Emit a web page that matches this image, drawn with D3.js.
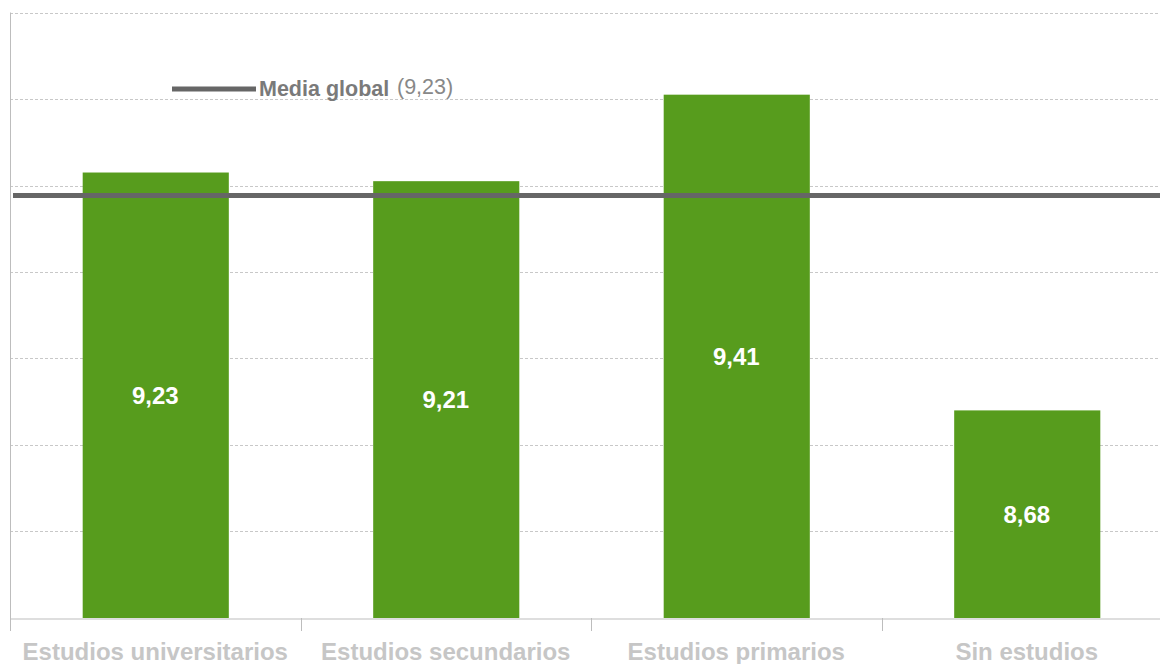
<!DOCTYPE html>
<html>
<head>
<meta charset="utf-8">
<script src="https://cdn.jsdelivr.net/npm/d3@7"></script>
<style>
  body { margin: 0; background: #fff; }
  text { font-family: "Liberation Sans", Arial, sans-serif; }
</style>
</head>
<body>
<div id="chart"></div>
<script>
// Datos
const categorias = ["Estudios universitarios", "Estudios secundarios", "Estudios primarios", "Sin estudios"];
const valores = [9.23, 9.21, 9.41, 8.68];
const etiquetas = ["9,23", "9,21", "9,41", "8,68"];
const mediaGlobal = 9.177;
const mediaTexto = "(9,23)";
const yTicks = [8.2, 8.4, 8.6, 8.8, 9.0, 9.2, 9.4, 9.6];

// Variabili
const [width, height] = [1160, 664];
const verde = "#579c1d";
const grisLinea = "#666666";

const svg = d3.select("#chart")
  .append("svg")
  .attr("width", width)
  .attr("height", height);

const xScale = d3.scaleBand()
  .domain(categorias)
  .range([10, 1172])
  .padding(0);

const yScale = d3.scaleLinear()
  .domain([8.2, 9.6])
  .range([618, 12.5]);

const barWidth = xScale.bandwidth() * 0.503;

// griglia
svg.append("g")
  .selectAll("line")
  .data(yTicks.slice(1))
  .enter()
  .append("line")
  .attr("x1", 10)
  .attr("x2", width)
  .attr("y1", d => Math.round(yScale(d)) + 0.5)
  .attr("y2", d => Math.round(yScale(d)) + 0.5)
  .style("stroke", "#c8c8c8")
  .style("stroke-dasharray", "3,2")
  .style("stroke-width", 1);

// barre
svg.append("g")
  .selectAll("rect")
  .data(valores)
  .enter()
  .append("rect")
  .attr("x", (d, i) => xScale(categorias[i]) + xScale.bandwidth() / 2 - barWidth / 2 + 0.5)
  .attr("y", d => yScale(d))
  .attr("width", barWidth)
  .attr("height", d => yScale(8.2) - yScale(d))
  .style("fill", verde);

// etichette valori
svg.append("g")
  .selectAll("text")
  .data(valores)
  .enter()
  .append("text")
  .attr("x", (d, i) => xScale(categorias[i]) + xScale.bandwidth() / 2)
  .attr("y", d => (yScale(d) + yScale(8.2)) / 2)
  .attr("dy", "0.36em")
  .attr("text-anchor", "middle")
  .style("fill", "#fff")
  .style("font-weight", "bold")
  .style("font-size", "24px")
  .text((d, i) => etiquetas[i]);

// asse x
const xAxis = svg.append("g")
  .attr("transform", "translate(0," + 618.5 + ")")
  .call(d3.axisBottom(xScale).tickSize(0).tickFormat(""));
xAxis.select(".domain").style("stroke", "#bdbdbd");

svg.append("g")
  .selectAll("line")
  .data(categorias)
  .enter()
  .append("line")
  .attr("x1", d => Math.round(xScale(d)) + 0.5)
  .attr("x2", d => Math.round(xScale(d)) + 0.5)
  .attr("y1", 618)
  .attr("y2", 631)
  .style("stroke", "#bdbdbd");

svg.append("g")
  .selectAll("text")
  .data(categorias)
  .enter()
  .append("text")
  .attr("x", d => xScale(d) + xScale.bandwidth() / 2)
  .attr("y", 660)
  .attr("text-anchor", "middle")
  .style("fill", "#c6c6c6")
  .style("font-weight", "bold")
  .style("font-size", "24px")
  .text(d => d);

// asse y (solo linea)
svg.append("line")
  .attr("x1", 10.5)
  .attr("x2", 10.5)
  .attr("y1", yScale(9.6))
  .attr("y2", 631)
  .style("stroke", "#bdbdbd");

// linea media
svg.append("line")
  .attr("x1", 13)
  .attr("x2", width)
  .attr("y1", yScale(mediaGlobal))
  .attr("y2", yScale(mediaGlobal))
  .style("stroke", grisLinea)
  .style("stroke-width", 5);

// legenda
const legenda = svg.append("g");
legenda.append("line")
  .attr("x1", 172)
  .attr("x2", 256)
  .attr("y1", 89)
  .attr("y2", 89)
  .style("stroke", grisLinea)
  .style("stroke-width", 5);

legenda.append("text")
  .attr("x", 259)
  .attr("y", 96)
  .style("fill", "#7a7a7a")
  .style("font-weight", "bold")
  .style("font-size", "21.5px")
  .text("Media global");

legenda.append("text")
  .attr("x", 397)
  .attr("y", 94)
  .style("fill", "#888")
  .style("font-size", "21.5px")
  .text(mediaTexto);
</script>
</body>
</html>
